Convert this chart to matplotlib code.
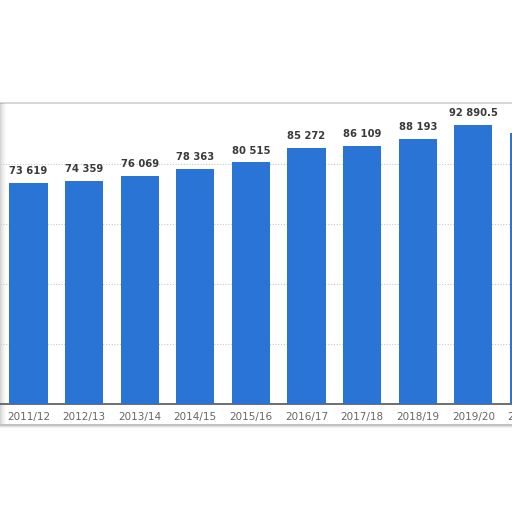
import matplotlib
matplotlib.use("Agg")
import matplotlib.pyplot as plt
from matplotlib.patches import Rectangle

categories = ["2011/12", "2012/13", "2013/14", "2014/15", "2015/16",
              "2016/17", "2017/18", "2018/19", "2019/20", "2020/21"]
values = [73619, 74359, 76069, 78363, 80515, 85272, 86109, 88193, 92890.5, 90300]
value_labels = ["73 619", "74 359", "76 069", "78 363", "80 515",
                "85 272", "86 109", "88 193", "92 890.5", ""]

W = H = 512
fig = plt.figure(figsize=(5.12, 5.12), dpi=100)
fig.patch.set_facecolor("white")

def fy(p):
    return 1 - p / H

# soft bottom shadow
for i, a in enumerate([0.05, 0.08, 0.12]):
    fig.patches.append(Rectangle((0.0, fy(428 - i)), 1.0, (428 - i - 102) / H,
                                 transform=fig.transFigure, facecolor="#000000",
                                 alpha=a, edgecolor="none", zorder=-5))
fig.patches.append(Rectangle((0.0, fy(424)), 1.0, (424 - 102) / H,
                             transform=fig.transFigure, facecolor="white",
                             edgecolor="none", zorder=-4))
fig.lines.append(plt.Line2D([0, 1], [fy(102.5), fy(102.5)], transform=fig.transFigure,
                            color="#cfcfcf", lw=1.2, zorder=-3))
for i, a in enumerate([0.16, 0.12, 0.09, 0.06, 0.04, 0.02]):
    fig.patches.append(Rectangle((i / W, fy(424)), 1 / W, (424 - 103) / H,
                                 transform=fig.transFigure, facecolor="#000000",
                                 alpha=a, edgecolor="none", zorder=-3))

x0_px, step_px = 28.5, 55.6
xmin = -x0_px / step_px
xmax = (W - x0_px) / step_px

ax = fig.add_axes([0, (H - 404) / H, 1, 300 / H])
ax.set_facecolor("none")
x = list(range(len(categories)))
ax.bar(x, values, width=0.69, color="#2a74d6", zorder=3)

for xi, v, lab in zip(x, values, value_labels):
    if lab:
        ax.annotate(lab, (xi, v), xytext=(0, 5), textcoords="offset points",
                    ha="center", va="bottom", fontsize=7.2, fontweight="bold",
                    color="#3a3a3a", zorder=4)

ax.set_yticks([20000, 40000, 60000, 80000])
ax.yaxis.grid(True, linestyle=(0, (1, 1.5)), color="#c8c8c8", lw=0.8, zorder=1)
ax.tick_params(axis="y", left=False, labelleft=False)
ax.set_xticks(x)
ax.set_xticklabels(categories, fontsize=7.5, color="#666666")
ax.tick_params(axis="x", length=0, pad=6)
# last (partially visible) category label
ax.annotate(categories[-1], (x[-1], 0), xytext=(0, -6), textcoords="offset points",
            ha="center", va="top", fontsize=7.5, color="#666666",
            annotation_clip=False)
ax.set_xlim(xmin, xmax)
ax.set_ylim(0, 100000)
for s in ["top", "right", "left"]:
    ax.spines[s].set_visible(False)
ax.spines["bottom"].set_color("#555555")
ax.spines["bottom"].set_linewidth(1.2)
ax.set_axisbelow(True)

fig.savefig("out.png", dpi=100, facecolor="white")
